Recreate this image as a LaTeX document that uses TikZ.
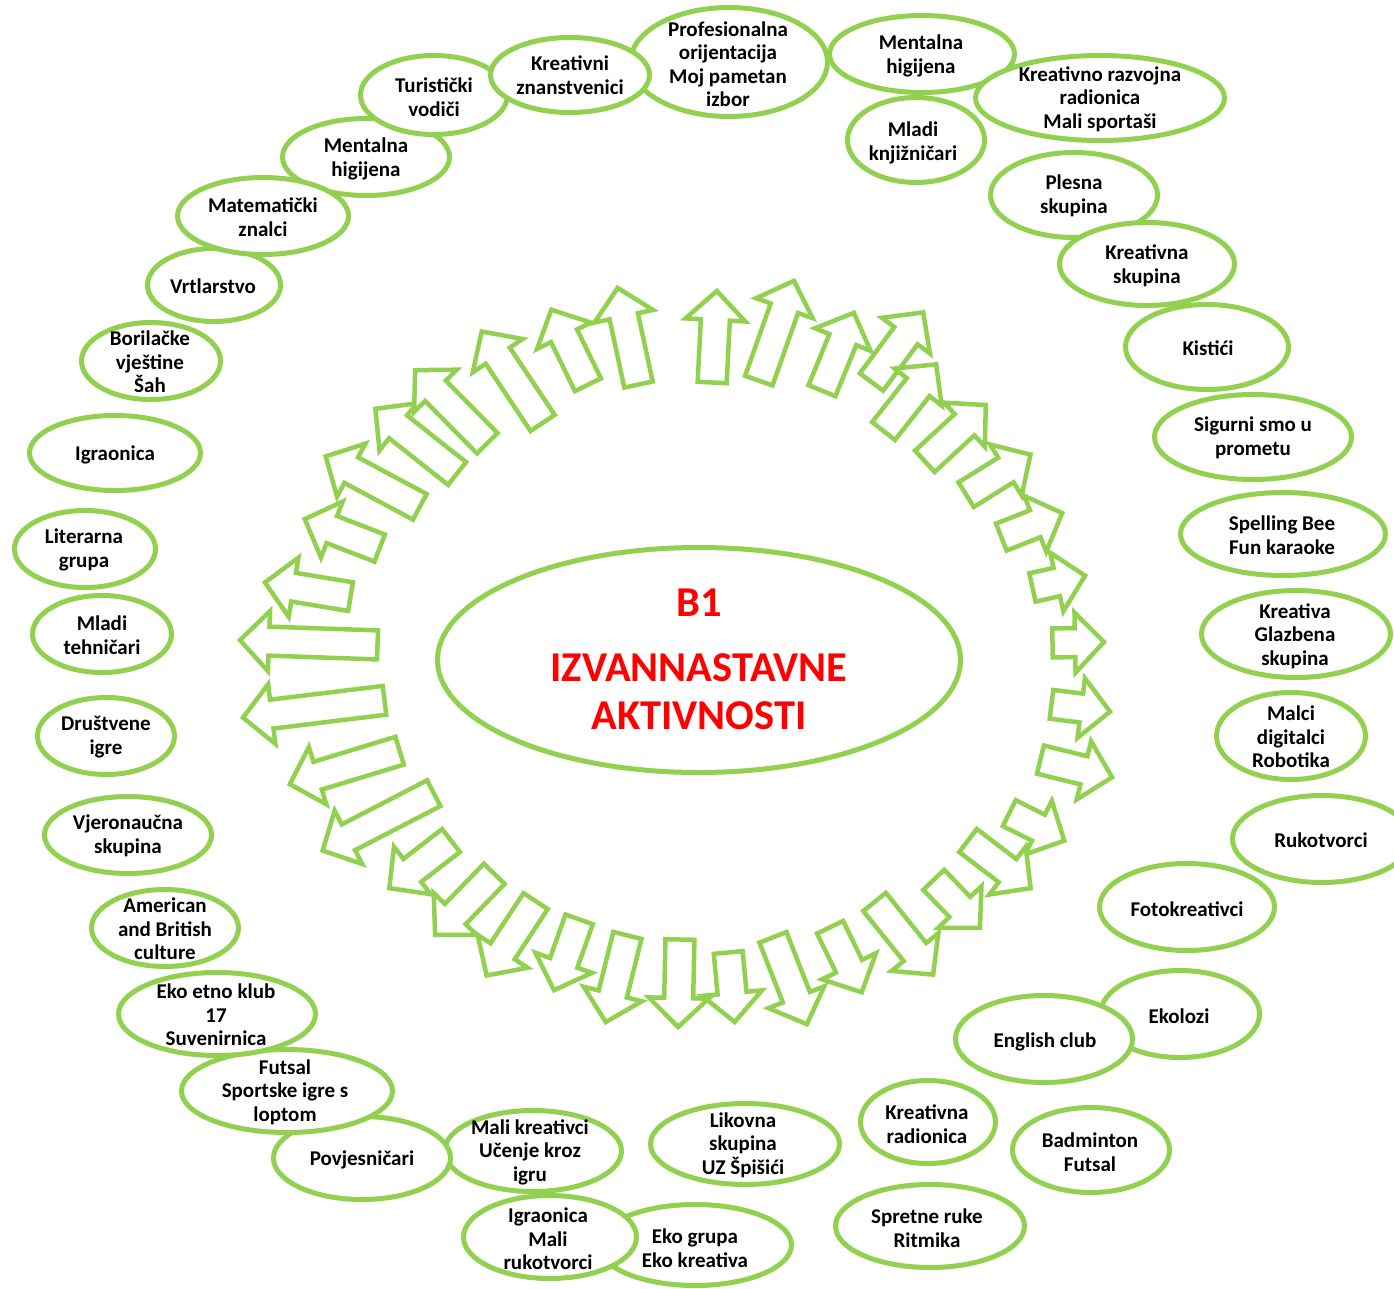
\documentclass[tikz,border=0pt]{standalone}
\usepackage{fontspec}
\setmainfont{Carlito}
\usetikzlibrary{shapes.geometric,calc}
\definecolor{lgreen}{HTML}{92D050}
\tikzset{
 bub/.style={draw=lgreen, line width=5pt, fill=white, ellipse, inner sep=0pt, outer sep=0pt},
 txt/.style={align=center, font=\fontsize{21}{23.5}\selectfont\bfseries, inner sep=0pt, text=black, yshift=-2pt},
 barrow/.style={draw=lgreen, line width=4.5pt, fill=white, line join=miter, miter limit=10},
 titletxt/.style={font=\fontsize{42.5}{48}\selectfont\bfseries, text=red, inner sep=0pt}
}
\newcommand\bubble[6]{%
 \node[bub, minimum width=#3pt, minimum height=#4pt] (#1) at (#2) {};
 \node[txt] (#1-t) at (#5) {#6};}
\newcommand\blockarrow[3]{%
 \coordinate (#1-a) at (#2);
 \coordinate (#1-b) at (#3);
 \coordinate (#1-t) at ($(#1-a)!2.5pt!(#1-b)$);
 \coordinate (#1-p) at ($(#1-b)!3pt!(#1-a)$);
 \coordinate (#1-h) at ($(#1-p)!29pt!(#1-t)$);
 \draw[barrow] ($(#1-t)!14.5pt!90:(#1-p)$) -- ($(#1-h)!14.5pt!90:(#1-p)$) -- ($(#1-h)!30pt!90:(#1-p)$) -- (#1-p) -- ($(#1-h)!30pt!-90:(#1-p)$) -- ($(#1-h)!14.5pt!-90:(#1-p)$) -- ($(#1-t)!14.5pt!-90:(#1-p)$) -- cycle;}
\begin{document}
\begin{tikzpicture}[x=1pt,y=-1pt]
\useasboundingbox (0,0) rectangle (1394,1288);
\fill[white] (0,0) rectangle (1394,1288);
% arrows ring
\blockarrow{aA}{380,645}{237,640}
\blockarrow{aB}{353,597}{262,582}
\blockarrow{aC}{382,549}{302,518}
\blockarrow{aD}{422,508}{323,455}
\blockarrow{aE}{459,475}{373,407}
\blockarrow{aF}{489,445}{413,368}
\blockarrow{aG}{544,425}{480,329}
\blockarrow{aH}{589,387}{550,307}
\blockarrow{aI}{639,387}{617,285}
\blockarrow{aJ}{712,385}{717,288}
\blockarrow{aK}{758,383}{795,278}
\blockarrow{aL}{821,393}{855,310}
\blockarrow{aM}{870,384}{925,310}
\blockarrow{aN}{882,433}{938,362}
\blockarrow{aO}{923,463}{988,403}
\blockarrow{aP}{964,496}{1033,453}
\blockarrow{aQ}{999,538}{1065,512}
\blockarrow{aR}{1030,588}{1088,575}
\blockarrow{aS}{1050,643}{1107,642}
\blockarrow{aT}{1049,704}{1113,712}
\blockarrow{aU}{1038,759}{1115,778}
\blockarrow{aV}{1007,812}{1067,842}
\blockarrow{aW}{966,839}{1033,890}
\blockarrow{aX}{932,878}{982,930}
\blockarrow{aY}{873,900}{935,977}
\blockarrow{aZ}{829,925}{863,995}
\blockarrow{aAA}{772,935}{808,1027}
\blockarrow{aAB}{728,950}{735,1025}
\blockarrow{aAC}{680,937}{678,1030}
\blockarrow{aAD}{628,933}{605,1025}
\blockarrow{aAE}{580,917}{553,993}
\blockarrow{aAF}{537,899}{485,978}
\blockarrow{aAG}{496,872}{433,937}
\blockarrow{aAH}{453,839}{387,890}
\blockarrow{aAI}{436,792}{320,852}
\blockarrow{aAJ}{402,750}{287,785}
\blockarrow{aAK}{387,700}{240,718}
% central ellipse
\node[bub, minimum width=523pt, minimum height=225pt] (center) at (699,660) {};
\node[titletxt] (b1) at (699,603) {B1};
\node[titletxt] (izv) at (699,668) {IZVANNASTAVNE};
\node[titletxt] (akt) at (699,716) {AKTIVNOSTI};
% bubbles
\bubble{vrt}{214,285}{133}{73}{213,284}{Vrtlarstvo}
\bubble{menL}{366,157}{167}{77}{366,157}{Mentalna\\higijena}
\bubble{mat}{263,216}{171}{77}{263,215}{Matematički\\znalci}
\bubble{tur}{434,95}{147}{79}{434,95}{Turistički\\vodiči}
\bubble{prof}{729,62}{197}{109}{728,62}{Profesionalna\\orijentacija\\Moj pametan\\izbor}
\bubble{kzn}{570,75}{159}{75}{570,73}{Kreativni\\znanstvenici}
\bubble{menR}{922,54}{185}{77}{921,54}{Mentalna\\higijena}
\bubble{krr}{1100,98}{249}{85}{1100,97}{Kreativno razvojna\\radionica\\Mali sportaši}
\bubble{mkn}{916,140}{137}{85}{913,141}{Mladi\\knjižničari}
\bubble{ples}{1074,195}{167}{85}{1074,194}{Plesna\\skupina}
\bubble{kist}{1207,347}{163}{85}{1208,346}{Kistići}
\bubble{kskup}{1147,264}{175}{83}{1147,264}{Kreativna\\skupina}
\bubble{sig}{1253,437}{197}{85}{1253,436}{Sigurni smo u\\prometu}
\bubble{spell}{1283,534}{205}{83}{1282,533}{Spelling Bee\\Fun karaoke}
\bubble{kglaz}{1296,634}{189}{87}{1295,634}{Kreativa\\Glazbena\\skupina}
\bubble{malci}{1291,736}{149}{87}{1291,735}{Malci\\digitalci\\Robotika}
\bubble{ruk}{1322,839}{179}{87}{1321,838}{Rukotvorci}
\bubble{foto}{1187,907}{175}{87}{1187,907}{Fotokreativci}
\bubble{ekol}{1180,1014}{159}{87}{1179,1014}{Ekolozi}
\bubble{eng}{1044,1039}{177}{87}{1045,1040}{English club}
\bubble{bad}{1091,1150}{157}{85}{1090,1150}{Badminton\\Futsal}
\bubble{krad}{928,1122}{135}{83}{927,1122}{Kreativna\\radionica}
\bubble{spr}{930,1226}{189}{83}{927,1226}{Spretne ruke\\Ritmika}
\bubble{lik}{745,1144}{189}{81}{743,1143}{Likovna\\skupina\\UZ Špišići}
\bubble{ekog}{695,1245}{193}{81}{695,1246}{Eko grupa\\Eko kreativa}
\bubble{igrmr}{550,1237}{173}{83}{548,1237}{Igraonica\\Mali\\rukotvorci}
\bubble{mkre}{533,1151}{177}{81}{530,1150}{Mali kreativci\\Učenje kroz\\igru}
\bubble{povj}{362,1158}{177}{83}{362,1158}{Povjesničari}
\bubble{futs}{287,1091}{211}{83}{285,1090}{Futsal\\Sportske igre s\\loptom}
\bubble{ekoetno}{217,1014}{197}{83}{216,1013}{Eko etno klub\\17\\Suvenirnica}
\bubble{amer}{165,928}{147}{77}{165,927}{American\\and British\\culture}
\bubble{vjer}{128,835}{167}{77}{128,834}{Vjeronaučna\\skupina}
\bubble{drus}{106,736}{137}{77}{106,735}{Društvene\\igre}
\bubble{mtech}{102,634}{139}{77}{102,633}{Mladi\\tehničari}
\bubble{lit}{85,549}{141}{77}{84,548}{Literarna\\grupa}
\bubble{igr}{115,453}{171}{75}{115,453}{Igraonica}
\bubble{bor}{151,361}{139}{77}{150,360}{Borilačke\\vještine\\Šah}
\end{tikzpicture}
\end{document}
